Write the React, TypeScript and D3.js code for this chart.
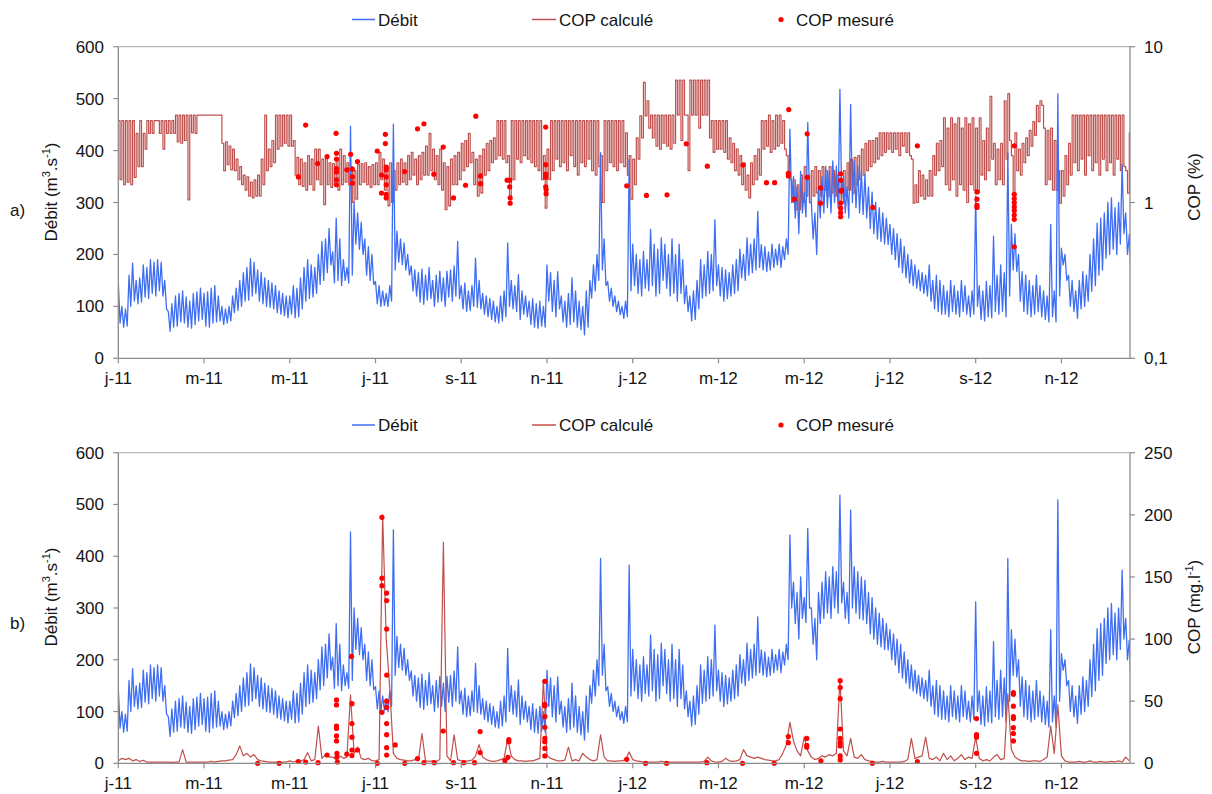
import React from 'react';
import * as d3 from 'd3';

// ---- axis labels (one every 2 months, starting Jan 2011) ----
const tickLabels = ['j-11', 'm-11', 'm-11', 'j-11', 's-11', 'n-11', 'j-12', 'm-12', 'm-12', 'j-12', 's-12', 'n-12'];
const tickMonths = [0, 2, 4, 6, 8, 10, 12, 14, 16, 18, 20, 22];
const lastMonth = 23.6;
const debitPerMonth = 24;
const copPctPerMonth = 24;
const copMgPerMonth = 12;

// ---- Débit (m3/s), 24 readings per month from Jan 2011 (band high / low pairs) ----
const debit = [
  145, 68, 100, 60, 95, 62, 160, 100, 183, 110, 150, 105, 155, 108, 180, 118, 175, 115, 190, 125, 185, 120, 190, 130,
  185, 120, 150, 95, 90, 52, 105, 60, 120, 62, 125, 70, 130, 68, 118, 60, 110, 58, 125, 65, 128, 72, 135, 75,
  125, 62, 128, 60, 135, 68, 140, 70, 120, 72, 100, 65, 95, 68, 100, 72, 120, 88, 135, 92, 150, 100, 165, 110,
  175, 112, 192, 120, 185, 125, 170, 110, 165, 105, 155, 100, 150, 98, 145, 95, 140, 88, 130, 85, 125, 82, 120, 78,
  120, 85, 140, 78, 135, 80, 155, 95, 175, 110, 190, 115, 180, 118, 175, 125, 200, 142, 225, 150, 230, 165, 250, 180,
  205, 145, 270, 150, 230, 140, 190, 150, 175, 145, 447, 160, 300, 220, 280, 210, 262, 200, 230, 160, 215, 150, 200, 142,
  148, 105, 140, 100, 130, 102, 125, 100, 140, 110, 451, 170, 245, 185, 230, 180, 222, 170, 200, 160, 178, 130, 170, 120,
  165, 108, 172, 104, 160, 112, 175, 115, 150, 100, 160, 108, 168, 110, 155, 100, 168, 118, 170, 110, 178, 120, 225, 115,
  140, 95, 145, 90, 130, 92, 140, 100, 193, 98, 150, 95, 125, 85, 120, 80, 115, 75, 110, 70, 100, 68, 120, 72,
  130, 80, 222, 100, 150, 95, 140, 90, 161, 75, 130, 85, 120, 80, 110, 65, 115, 60, 105, 58, 110, 62, 100, 60,
  180, 110, 165, 90, 150, 80, 167, 95, 120, 70, 110, 60, 125, 65, 155, 70, 130, 60, 110, 55, 100, 45, 130, 60,
  150, 116, 180, 130, 200, 150, 396, 170, 230, 140, 148, 110, 135, 100, 120, 90, 110, 84, 100, 77, 110, 80, 383, 130,
  220, 140, 200, 125, 190, 120, 206, 135, 190, 130, 248, 140, 220, 120, 210, 125, 232, 150, 220, 135, 200, 120, 230, 125,
  200, 110, 220, 125, 190, 105, 140, 90, 120, 72, 130, 75, 150, 95, 190, 116, 180, 120, 206, 125, 200, 130, 267, 140,
  180, 120, 175, 110, 170, 115, 165, 120, 180, 125, 190, 130, 210, 155, 200, 150, 232, 160, 220, 165, 230, 170, 283, 175,
  219, 170, 215, 167, 205, 170, 220, 175, 210, 180, 220, 175, 215, 190, 230, 200, 441, 300, 350, 270, 330, 240, 360, 280,
  320, 272, 454, 300, 300, 230, 280, 200, 330, 270, 350, 280, 370, 290, 360, 280, 380, 300, 370, 290, 518, 310, 350, 280,
  330, 270, 489, 300, 380, 290, 370, 280, 360, 277, 354, 270, 330, 250, 320, 240, 300, 230, 290, 225, 280, 220, 270, 219,
  258, 200, 250, 190, 240, 175, 230, 165, 215, 155, 200, 145, 190, 140, 180, 135, 170, 130, 165, 125, 160, 120, 180, 110,
  150, 95, 160, 90, 150, 85, 140, 85, 130, 80, 150, 90, 140, 85, 130, 80, 150, 90, 140, 85, 120, 80, 130, 85,
  312, 100, 140, 75, 130, 72, 148, 80, 140, 78, 235, 90, 160, 85, 180, 90, 165, 80, 396, 120, 258, 170, 240, 167,
  200, 110, 167, 90, 160, 85, 150, 80, 140, 85, 160, 90, 140, 80, 130, 75, 120, 70, 258, 80, 130, 70, 509, 120,
  212, 180, 200, 150, 160, 100, 150, 90, 130, 77, 150, 95, 167, 100, 160, 110, 200, 129, 230, 140, 260, 160, 270, 170,
  280, 193, 300, 200, 309, 210, 290, 200, 300, 220, 373, 240, 280, 200, 238, 155,
];

// ---- COP calculé (%), panel a, 24 readings per month (band high / low pairs) ----
const copPct = [
  3.35, 1.4, 3.35, 1.3, 3.35, 1.35, 3.35, 1.3, 3.35, 1.45, 2.78, 1.7, 3.35, 1.7, 2.78, 2.2, 3.35, 2.78, 3.35, 2.78, 3.35, 3.35, 3.35, 2.78,
  3.35, 2.2, 3.35, 2.78, 3.35, 2.78, 3.35, 2.78, 3.64, 2.45, 3.64, 2.4, 3.64, 2.5, 3.64, 1.04, 3.64, 2.8, 3.64, 2.78, 3.64, 3.64, 3.64, 3.64,
  3.64, 3.64, 3.64, 3.64, 3.64, 3.64, 3.64, 3.64, 3.64, 3.64, 2.4, 1.6, 2.45, 1.75, 2.3, 1.62, 2.2, 1.6, 1.9, 1.4, 1.7, 1.3, 1.5, 1.2,
  1.46, 1.1, 1.35, 1.07, 1.4, 1.1, 1.5, 1.1, 1.9, 1.3, 3.64, 1.6, 2.2, 1.7, 2.5, 1.8, 3.64, 2.2, 3.64, 2.3, 3.64, 2.4, 3.64, 2.3,
  3.64, 2.3, 2.5, 1.5, 1.95, 1.3, 1.9, 1.27, 1.8, 1.2, 2.0, 1.3, 1.9, 1.2, 2.2, 1.4, 2.2, 1.3, 1.9, 0.97, 2.0, 1.3, 1.8, 1.25,
  1.78, 1.3, 1.9, 1.2, 2.2, 1.3, 2.0, 1.35, 1.8, 1.3, 1.7, 1.0, 1.6, 1.05, 1.75, 1.3, 1.78, 1.35, 1.8, 1.3, 1.7, 1.25, 1.75, 1.3,
  1.8, 1.3, 2.1, 1.4, 1.9, 1.2, 1.7, 0.95, 1.8, 1.0, 1.6, 1.2, 1.8, 1.3, 1.9, 1.35, 1.8, 1.3, 2.0, 1.4, 2.1, 1.5, 1.9, 1.3,
  2.0, 1.4, 2.1, 1.5, 2.3, 1.5, 2.78, 1.6, 2.2, 1.4, 2.0, 1.3, 2.2, 1.2, 1.8, 0.9, 1.7, 0.95, 1.9, 1.3, 2.0, 1.3, 2.1, 1.4,
  2.4, 1.6, 2.5, 1.7, 2.78, 1.8, 2.1, 1.3, 1.9, 1.1, 2.0, 1.15, 2.2, 1.5, 2.4, 1.6, 2.5, 1.8, 2.6, 1.9, 3.35, 2.0, 3.35, 1.9,
  3.35, 1.8, 2.0, 1.05, 3.35, 1.4, 3.35, 1.9, 3.35, 1.8, 3.35, 2.0, 3.35, 1.9, 3.35, 1.8, 3.35, 1.7, 3.35, 1.6, 3.35, 1.4, 2.0, 0.92,
  2.2, 1.4, 3.35, 1.6, 3.35, 1.9, 3.35, 1.7, 3.35, 1.8, 3.35, 1.6, 3.35, 2.0, 3.35, 1.7, 3.35, 1.5, 3.35, 1.8, 3.35, 1.7, 3.35, 1.9,
  3.35, 1.6, 3.35, 1.5, 3.35, 1.7, 2.0, 1.0, 3.35, 1.6, 3.35, 1.8, 3.35, 1.7, 3.35, 1.6, 3.35, 1.8, 3.35, 1.7, 2.8, 1.5, 2.0, 1.05,
  1.9, 1.3, 2.6, 1.9, 3.6, 2.6, 5.9, 3.6, 4.5, 3.0, 3.64, 2.6, 3.64, 2.3, 3.64, 2.2, 3.64, 2.4, 3.64, 2.3, 3.64, 2.2, 3.64, 2.4,
  6.1, 3.64, 6.1, 2.5, 6.1, 3.64, 3.64, 1.6, 6.1, 3.64, 6.1, 3.64, 6.1, 3.0, 6.1, 3.64, 6.1, 3.64, 6.1, 2.6, 3.35, 2.1, 3.35, 2.2,
  3.35, 2.2, 3.35, 2.1, 3.35, 1.9, 2.6, 1.8, 2.4, 1.6, 2.2, 1.5, 2.0, 1.3, 1.8, 1.2, 1.5, 1.07, 1.8, 1.3, 2.0, 1.4, 2.2, 1.5,
  3.35, 2.2, 3.35, 2.3, 3.64, 2.1, 3.35, 2.2, 3.64, 2.3, 3.64, 2.4, 3.35, 2.2, 2.0, 1.6, 1.4, 1.0, 1.4, 0.9, 1.3, 0.9, 1.5, 1.0,
  1.7, 1.1, 1.5, 1.0, 1.6, 1.1, 1.7, 1.15, 1.6, 1.1, 1.7, 1.2, 1.6, 1.1, 1.7, 1.15, 1.6, 1.1, 1.5, 1.0, 1.4, 0.99, 1.6, 1.1,
  1.8, 1.2, 1.9, 1.15, 1.95, 1.3, 2.0, 1.4, 2.2, 1.5, 2.4, 1.6, 2.5, 1.7, 2.5, 1.8, 2.6, 1.9, 2.8, 2.0, 2.8, 2.1, 2.8, 2.2,
  2.8, 2.1, 2.8, 2.2, 2.8, 2.0, 2.8, 2.3, 2.8, 2.1, 2.8, 2.0, 1.9, 0.99, 1.3, 1.0, 1.6, 1.1, 1.5, 1.05, 1.4, 1.1, 1.6, 1.1,
  2.0, 1.5, 2.4, 1.6, 2.5, 1.7, 3.5, 1.3, 3.0, 1.2, 3.5, 1.4, 3.2, 1.1, 3.5, 1.3, 3.0, 1.2, 3.5, 1.0, 3.2, 1.3, 3.5, 1.2,
  3.0, 1.15, 3.5, 1.5, 2.5, 1.4, 3.0, 1.6, 4.8, 1.9, 2.4, 1.3, 2.2, 1.4, 2.4, 1.3, 4.5, 1.9, 5.0, 2.5, 2.0, 1.15, 2.8, 1.6,
  2.2, 1.5, 2.4, 1.8, 2.6, 2.0, 2.9, 2.3, 3.3, 2.7, 4.2, 3.3, 4.5, 4.2, 3.0, 1.3, 2.9, 1.4, 3.0, 1.2, 2.5, 1.2, 1.6, 0.99,
  1.6, 1.1, 2.0, 1.3, 2.4, 1.5, 3.64, 1.8, 3.64, 1.6, 3.64, 1.9, 3.64, 1.5, 3.64, 2.0, 3.64, 1.6, 3.64, 1.8, 3.64, 1.5, 3.64, 1.9,
  3.64, 1.6, 3.64, 1.8, 3.64, 1.5, 3.64, 1.9, 3.64, 1.6, 3.64, 1.7, 1.6, 1.15, 2.8, 2.0,
];

// ---- COP calculé (mg/l), panel b, 12 readings per month ----
const copMg = [
  2, 4, 3, 4, 2, 3, 1.5, 2.5, 1, 1, 1, 1,
  1, 1, 1, 0.8, 1, 1, 11, 1, 1, 1, 1, 1,
  1, 1, 1.5, 1, 1.5, 2, 2, 2.5, 3, 7, 14, 6,
  8, 5, 7, 3, 2, 1.5, 1, 1, 1, 0.8, 1, 1,
  2, 1, 2, 1.5, 3, 8.6, 2, 3, 30, 4, 7, 5,
  5, 3, 6, 4, 5, 55, 8, 13, 4, 3, 4, 2,
  2, 3, 200, 100, 60, 8, 4, 3, 2.5, 2, 2, 3,
  2, 24, 2, 1.5, 2, 1.5, 3, 178, 6, 2, 23, 3,
  2, 1.5, 2, 2.5, 6, 15, 5, 3, 2, 1.5, 2, 3,
  4, 20, 6, 3, 2, 2, 1.5, 2, 2, 3, 4, 67,
  6, 4, 3, 2, 2, 2.5, 13, 2, 3, 2, 8, 5,
  3, 2, 3, 23, 5, 2, 2, 1.5, 2, 2, 3, 9,
  3, 2, 1.5, 1, 1, 1, 1, 1, 1.5, 1, 1, 1,
  1, 1, 1, 1, 1, 1, 1, 1, 1.5, 5, 2, 1,
  1, 1.5, 4, 2, 1.5, 2, 3, 11, 6, 5, 4, 5,
  4, 3, 2.5, 2, 2, 3, 8, 15, 33, 18, 10, 6,
  21, 10, 5, 3, 4, 6, 5, 7, 6, 8, 68, 10,
  6, 20, 5, 4, 7, 3, 2, 1.5, 1, 1, 1.5, 1,
  1, 1, 1, 1, 1.5, 3, 20, 4, 5, 6, 21, 4,
  3, 5, 2, 8, 3, 6, 2, 4, 7, 3, 5, 4,
  21, 4, 2, 3, 2, 5, 7, 3, 4, 56, 11, 5,
  3, 2, 2, 1.5, 2, 2, 1.5, 3, 5, 30, 8, 47,
  6, 2, 1, 1, 1, 1.5, 1, 1, 2, 1, 1, 1.5,
  1, 1, 1.5, 1, 2, 1, 5, 2,
];

// ---- COP mesuré, panel a (month index, %) ----
const measTopMonth = [4.2, 4.37, 4.65, 4.87, 5.08, 5.09, 5.09, 5.09, 5.09, 5.09, 5.09, 5.33, 5.42, 5.46, 5.46, 5.46, 5.58, 6.04, 6.23, 6.23, 6.14, 6.25, 6.25, 6.25, 6.25, 6.14, 6.25, 6.25, 6.68, 6.98, 7.13, 7.36, 7.58, 7.82, 8.1, 8.34, 8.45, 8.45, 9.07, 9.13, 9.13, 9.14, 9.14, 9.97, 9.97, 9.97, 9.97, 9.97, 9.98, 9.98, 11.86, 12.32, 12.8, 13.25, 13.74, 14.57, 15.12, 15.31, 15.64, 15.63, 15.63, 15.77, 16.07, 16.07, 16.38, 16.38, 16.85, 16.85, 16.87, 16.86, 16.85, 16.85, 16.85, 16.85, 17.6, 18.64, 20.03, 20.03, 20.03, 20.03, 20.9, 20.9, 20.9, 20.9, 20.9, 20.9, 20.9, 20.9, 20.9];
const measTopPct = [1.46, 3.14, 1.78, 1.97, 2.78, 2.07, 1.9, 1.65, 1.57, 1.4, 1.3, 1.62, 2.04, 1.64, 1.46, 1.33, 1.83, 2.14, 2.74, 2.39, 1.5, 1.69, 1.62, 1.46, 1.3, 1.15, 1.13, 1.07, 1.58, 2.97, 3.2, 1.52, 2.27, 1.07, 1.29, 3.58, 1.48, 1.32, 1.39, 1.39, 1.26, 1.07, 0.99, 3.05, 1.75, 1.52, 1.45, 1.26, 1.21, 1.14, 1.28, 1.11, 1.12, 2.38, 1.71, 1.74, 1.34, 1.34, 3.95, 1.54, 1.48, 1.05, 2.76, 1.45, 1.24, 0.99, 1.53, 1.39, 1.2, 1.18, 0.99, 0.92, 0.86, 0.81, 0.93, 2.31, 1.17, 1.05, 0.96, 0.93, 2.31, 1.13, 1.06, 1.0, 0.94, 0.89, 0.83, 0.78, 0.52];

// ---- COP mesuré, panel b (month index, mg/l) ----
const measBotMonth = [3.25, 3.75, 4.2, 4.37, 4.66, 4.87, 5.09, 5.09, 5.09, 5.09, 5.09, 5.09, 5.1, 5.1, 5.11, 5.33, 5.44, 5.45, 5.45, 5.45, 5.45, 5.45, 5.58, 6.04, 6.15, 6.15, 6.15, 6.15, 6.26, 6.26, 6.26, 6.26, 6.26, 6.26, 6.26, 6.26, 6.26, 6.26, 6.46, 6.68, 6.98, 7.13, 7.37, 7.58, 7.82, 8.06, 8.31, 8.44, 8.44, 9.02, 9.11, 9.11, 9.09, 9.95, 9.95, 9.95, 9.95, 9.95, 9.95, 9.95, 9.95, 9.95, 11.86, 12.3, 12.79, 13.73, 14.56, 15.3, 15.63, 15.63, 16.06, 16.06, 16.06, 16.39, 16.84, 16.84, 16.84, 16.84, 16.84, 16.84, 16.84, 16.84, 16.84, 17.59, 18.64, 20.02, 20.02, 20.02, 20.02, 20.88, 20.88, 20.88, 20.88, 20.88, 20.88, 20.88, 20.88];
const measBotMg = [0, 0, 1.3, 1, 0.5, 6.7, 51, 47, 30, 28, 22, 18, 8, 4.8, 1, 7.5, 86, 48, 32, 21, 10.7, 6.2, 10.7, 0, 198, 149, 143, 41, 137, 131, 108, 71, 50, 45, 32, 23, 12.6, 6.7, 14.8, 0, 3.8, 0.5, 0.5, 26, 0.5, 0.5, 0.5, 25.5, 8.6, 2.1, 19, 17.4, 4.8, 66, 47.5, 46.4, 37.6, 29, 20, 17.4, 12, 5.9, 3.2, 0, 0, 0.5, 0, 0, 21.5, 16.6, 20, 14.5, 13, 1.9, 66.5, 61, 52, 27.6, 20, 16.6, 14, 5.9, 2.7, 0, 1.3, 36, 23, 21, 8, 57, 55.5, 46, 37.6, 36, 28.7, 24, 18];

const leftTicks = [0, 100, 200, 300, 400, 500, 600];
const rightTicksA = [0.1, 1, 10];
const rightTicksB = [0, 50, 100, 150, 200, 250];

const FONT = "Arial, 'Liberation Sans', Helvetica, sans-serif";
const BLUE = '#3E6EF4';
const BROWN = '#C0504D';
const DOT = '#FF0000';
const AXIS = '#8C8C8C';
const TEXT = '#141414';
const FS = 17;

const X_LEFT = 118.3;
const X_RIGHT = 1130;

const x = d3.scaleLinear().domain([0, lastMonth]).range([X_LEFT, X_RIGHT]);

type PanelProps = {
  top: number;
  bottom: number;
  letter: string;
  letterY: number;
  rightTitle: 'pct' | 'mg';
  legendY: number;
  leftTitleY: number;
  rightTitleY: number;
};

function Legend({ y }: { y: number }) {
  return (
    <g fontFamily={FONT} fontSize={FS} fill={TEXT}>
      <line x1={352} x2={375} y1={y} y2={y} stroke={BLUE} strokeWidth={1.5} />
      <text x={378} y={y + 6}>Débit</text>
      <line x1={532} x2={556} y1={y} y2={y} stroke={BROWN} strokeWidth={1.5} />
      <text x={559} y={y + 6}>COP calculé</text>
      <circle cx={781} cy={y} r={2.6} fill={DOT} />
      <text x={796} y={y + 6}>COP mesuré</text>
    </g>
  );
}

function Panel({ top, bottom, letter, letterY, rightTitle, legendY, leftTitleY, rightTitleY }: PanelProps) {
  const yL = d3.scaleLinear().domain([0, 600]).range([bottom, top]);
  const isLog = rightTitle === 'pct';
  const yR: any = isLog
    ? d3.scaleLog().domain([0.1, 10]).range([bottom, top])
    : d3.scaleLinear().domain([0, 250]).range([bottom, top]);
  const rTicks = isLog ? rightTicksA : rightTicksB;
  const fmtR = (v: number) => (isLog ? String(v).replace('.', ',') : String(v));

  const debitLine = d3
    .line<number>()
    .x((_, i) => x(i / debitPerMonth))
    .y((d) => yL(d));
  const copSeries = isLog ? copPct : copMg;
  const copRate = isLog ? copPctPerMonth : copMgPerMonth;
  const copLine = d3
    .line<number>()
    .x((_, i) => x(i / copRate))
    .y((d) => yR(d))
    .curve(isLog ? d3.curveStepAfter : d3.curveLinear);

  const dotsM = isLog ? measTopMonth : measBotMonth;
  const dotsV = isLog ? measTopPct : measBotMg;
  const clipId = 'clip' + rightTitle;

  const bluePath = (
    <path d={debitLine(debit) || ''} fill="none" stroke={BLUE} strokeWidth={1.3} strokeLinejoin="round" clipPath={`url(#${clipId})`} />
  );
  const redPath = (
    <path d={copLine(copSeries) || ''} fill="none" stroke={BROWN} strokeWidth={isLog ? 1.2 : 1.2} strokeLinejoin="round" clipPath={`url(#${clipId})`} />
  );

  return (
    <g>
      <defs>
        <clipPath id={clipId}>
          <rect x={X_LEFT} y={top - 2} width={X_RIGHT - X_LEFT} height={bottom - top + 2} />
        </clipPath>
      </defs>
      <Legend y={legendY} />
      <line x1={X_LEFT} x2={X_RIGHT} y1={top} y2={top} stroke="#A8A8A8" strokeWidth={1} />
      {isLog ? (
        <>
          {redPath}
          {bluePath}
        </>
      ) : (
        <>
          {bluePath}
          {redPath}
        </>
      )}
      {dotsM.map((m, i) => (
        <circle key={i} cx={x(m)} cy={yR(dotsV[i])} r={2.6} fill={DOT} />
      ))}
      <line x1={X_LEFT} x2={X_LEFT} y1={top} y2={bottom} stroke={AXIS} strokeWidth={1.3} />
      <line x1={X_RIGHT} x2={X_RIGHT} y1={top} y2={bottom} stroke={AXIS} strokeWidth={1.3} />
      <line x1={X_LEFT} x2={X_RIGHT} y1={bottom} y2={bottom} stroke={AXIS} strokeWidth={1.3} />
      {leftTicks.map((t) => (
        <g key={'l' + t}>
          <line x1={X_LEFT - 5} x2={X_LEFT} y1={yL(t)} y2={yL(t)} stroke={AXIS} strokeWidth={1.2} />
          <text x={104} y={yL(t) + 6} textAnchor="end" fontFamily={FONT} fontSize={FS} fill={TEXT}>
            {t}
          </text>
        </g>
      ))}
      {rTicks.map((t) => (
        <g key={'r' + t}>
          <line x1={X_RIGHT} x2={X_RIGHT + 5} y1={yR(t)} y2={yR(t)} stroke={AXIS} strokeWidth={1.2} />
          <text x={1144} y={yR(t) + 6} textAnchor="start" fontFamily={FONT} fontSize={FS} fill={TEXT}>
            {fmtR(t)}
          </text>
        </g>
      ))}
      {tickMonths.map((m, i) => (
        <g key={'x' + i}>
          <line x1={x(m)} x2={x(m)} y1={bottom} y2={bottom + 5} stroke={AXIS} strokeWidth={1.2} />
          <text x={x(m)} y={bottom + 26} textAnchor="middle" fontFamily={FONT} fontSize={FS} fill={TEXT}>
            {tickLabels[i]}
          </text>
        </g>
      ))}
      <text x={10} y={letterY} fontFamily={FONT} fontSize={FS} fill={TEXT}>
        {letter}
      </text>
      <text
        transform={`translate(57,${leftTitleY}) rotate(-90)`}
        textAnchor="middle"
        fontFamily={FONT}
        fontSize={FS}
        fill={TEXT}
      >
        Débit (m<tspan dy={-7} fontSize={11}>3</tspan>
        <tspan dy={7}>.s</tspan>
        <tspan dy={-7} fontSize={11}>-1</tspan>
        <tspan dy={7}>)</tspan>
      </text>
      {isLog ? (
        <text
          transform={`translate(1200,${rightTitleY}) rotate(-90)`}
          textAnchor="middle"
          fontFamily={FONT}
          fontSize={FS}
          fill={TEXT}
        >
          COP (%)
        </text>
      ) : (
        <text
          transform={`translate(1200,${rightTitleY}) rotate(-90)`}
          textAnchor="middle"
          fontFamily={FONT}
          fontSize={FS}
          fill={TEXT}
        >
          COP (mg.l<tspan dy={-7} fontSize={11}>-1</tspan>
          <tspan dy={7}>)</tspan>
        </text>
      )}
    </g>
  );
}

export default function App() {
  return (
    <svg
      width={1212}
      height={794}
      viewBox="0 0 1212 794"
      style={{ position: 'absolute', left: 0, top: 0, display: 'block', background: '#fff' }}
    >
      <rect width={1212} height={794} fill="#fff" />
      <Panel top={46.7} bottom={358.3} letter="a)" letterY={216} rightTitle="pct" legendY={19.5} leftTitleY={192} rightTitleY={187} />
      <Panel top={452.7} bottom={763.3} letter="b)" letterY={629} rightTitle="mg" legendY={425} leftTitleY={597} rightTitleY={607} />
    </svg>
  );
}
